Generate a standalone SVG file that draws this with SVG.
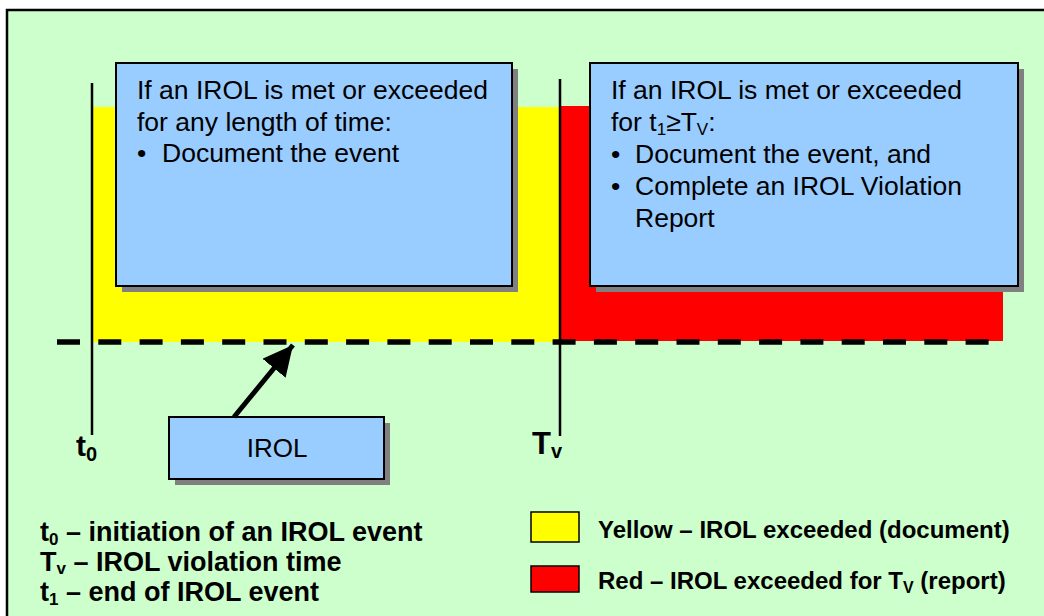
<svg xmlns="http://www.w3.org/2000/svg" width="1044" height="616" viewBox="0 0 1044 616">
<style>
.t{font-family:"Liberation Sans",Arial,sans-serif;fill:#000}
.n{font-size:26.5px}
.b{font-size:27px;font-weight:bold}
.box{fill:#99CCFF;stroke:#000;stroke-width:2}
.sh{fill:#808080}
</style>
<defs>
<marker id="ah" markerUnits="userSpaceOnUse" markerWidth="32" markerHeight="32" refX="30" refY="15" orient="auto">
<path d="M0,0 L30,15 L0,30 Z" fill="#000"/>
</marker>
</defs>
<rect x="0" y="0" width="1044" height="616" fill="#fff"/>
<rect x="7" y="10" width="1100" height="700" fill="#CCFFCC" stroke="#000" stroke-width="2.5"/>
<g id="bands">
<rect x="92" y="107" width="468" height="235" fill="#FFFF00"/>
<rect x="560" y="106" width="443" height="235" fill="#FF0000"/>
</g>
<g id="axes">
<line x1="92" y1="83" x2="92" y2="435" stroke="#000" stroke-width="2.5"/>
<line x1="560" y1="79" x2="560" y2="436" stroke="#000" stroke-width="2.5"/>
<line x1="57" y1="342" x2="1000" y2="342" stroke="#000" stroke-width="5.5" stroke-dasharray="23 18.3"/>
<text class="t" x="76" y="456" font-size="30" font-weight="bold">t<tspan font-size="20" dy="5">0</tspan></text>
<text class="t" x="532" y="454" font-size="31" font-weight="bold">T<tspan font-size="20" dy="4">v</tspan></text>
</g>
<g id="box1">
<rect class="sh" x="122" y="69" width="396" height="223"/>
<rect class="box" x="116" y="63" width="396" height="223"/>
<text class="t n" x="137" y="99">If an IROL is met or exceeded</text>
<text class="t n" x="137" y="131">for any length of time:</text>
<text class="t n" x="137" y="162">•</text>
<text class="t n" x="162" y="162">Document the event</text>
</g>
<g id="box2">
<rect class="sh" x="596" y="69" width="428" height="223"/>
<rect class="box" x="590" y="63" width="428" height="223"/>
<text class="t n" x="611" y="99">If an IROL is met or exceeded</text>
<text class="t n" x="611" y="131">for t<tspan font-size="17" dy="4">1</tspan><tspan dy="-4">≥T</tspan><tspan font-size="17" dy="4">V</tspan><tspan dy="-4">:</tspan></text>
<text class="t n" x="611" y="163">•</text>
<text class="t n" x="635" y="163">Document the event, and</text>
<text class="t n" x="611" y="195">•</text>
<text class="t n" x="635" y="195">Complete an IROL Violation</text>
<text class="t n" x="635" y="227">Report</text>
</g>
<g id="irol">
<rect class="sh" x="175" y="423" width="215" height="62"/>
<rect class="box" x="169" y="417" width="215" height="62"/>
<text class="t" x="277" y="457" font-size="26" text-anchor="middle">IROL</text>
</g>
<g id="connectors">
<line x1="234" y1="417" x2="293" y2="345" stroke="#000" stroke-width="5" marker-end="url(#ah)"/>
</g>
<g id="legend">
<text class="t b" x="40" y="541">t<tspan font-size="17" dy="4">0</tspan><tspan dy="-4"> – initiation of an IROL event</tspan></text>
<text class="t b" x="40" y="571">T<tspan font-size="17" dy="3">v</tspan><tspan dy="-3"> – IROL violation time</tspan></text>
<text class="t b" x="40" y="601">t<tspan font-size="17" dy="4">1</tspan><tspan dy="-4"> – end of IROL event</tspan></text>
<rect x="531" y="512" width="48" height="30" fill="#FFFF00" stroke="#000" stroke-width="1.5"/>
<rect x="531" y="566" width="48" height="26" fill="#FF0000" stroke="#000" stroke-width="1.5"/>
<text class="t" x="598" y="538" font-size="24" font-weight="bold">Yellow – IROL exceeded (document)</text>
<text class="t" x="598" y="589" font-size="24" font-weight="bold">Red – IROL exceeded for T<tspan font-size="16" dy="4">V</tspan><tspan dy="-4"> (report)</tspan></text>
</g>
</svg>
